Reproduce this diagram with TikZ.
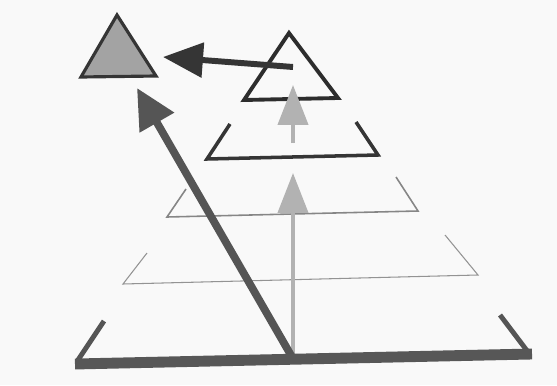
\documentclass[tikz,border=0pt]{standalone}
\usepackage{xcolor}
\usepackage{tikz}
\usetikzlibrary{arrows.meta}

\definecolor{fondo}{HTML}{F9F9F9}
\definecolor{oscuro}{HTML}{353535}
\definecolor{medio}{HTML}{555555}
\definecolor{claro}{HTML}{B2B2B2}

\begin{document}
\begin{tikzpicture}[x=0.02cm, y=-0.02cm,
  capafina/.style={draw=gray!85, line width=0.6pt, line join=miter},
  capamedia/.style={draw=gray!95, line width=0.9pt, line join=miter},
  capafuerte/.style={draw=oscuro, line width=2pt, line join=miter},
  bandeja/.style={draw=medio, line width=2.8pt, line cap=butt},
  flechaosc/.style={draw=medio, fill=medio, line width=4.4pt,
                    -{Triangle[length=0.8cm, width=0.76cm]}},
  flechahor/.style={draw=oscuro, fill=oscuro, line width=3.4pt,
                    -{Triangle[length=0.8cm, width=0.68cm]}},
  flechaclara/.style={draw=claro, fill=claro, line width=2.4pt,
                      -{Triangle[length=0.8cm, width=0.6cm]}},
]
  % Marco con las proporciones del original
  \fill[fondo] (0,0) rectangle (557,385);
  \useasboundingbox (0,0) rectangle (557,385);

  % Puntos de partida y llegada de las flechas
  \coordinate (base)    at (292,357);
  \coordinate (cima)    at (137,88);
  \coordinate (pie1)    at (293,355);
  \coordinate (punta1)  at (293,173);
  \coordinate (pie2)    at (293,143);
  \coordinate (punta2)  at (293,85);
  \coordinate (cola)    at (293,67);
  \coordinate (destino) at (163,57);

  % Niveles intermedios (trazo fino)
  \draw[capafina]  (147,253) -- (123,284) -- (478,275) -- (445,235);
  \draw[capamedia] (186,189) -- (167,217) -- (418,211) -- (396,177);
  \draw[capafuerte] (230,124) -- (207,159) -- (378,155) -- (356,122);

  % Triangulo del nivel superior
  \draw[draw=oscuro!85!black, line width=2.2pt, line join=miter]
    (289,33) -- (244,100) -- (338,98) -- cycle;

  % Triangulo relleno arriba a la izquierda
  \filldraw[fill=gray!72, draw=oscuro, line width=1.8pt, line join=miter]
    (117,15) -- (81,77) -- (156,76) -- cycle;

  % Flechas claras hacia arriba
  \draw[flechaclara] (pie1) -- (punta1);
  \draw[flechaclara] (pie2) -- (punta2);

  % Flecha larga oscura
  \draw[flechaosc] (base) -- (cima);

  % Flecha horizontal hacia el triangulo relleno
  \draw[flechahor] (cola) -- (destino);

  % Bandeja inferior
  \draw[bandeja] (104,321) -- (78,360);
  \draw[bandeja] (500,315) -- (528,352);
  \draw[draw=gray!68!black, line width=6.2pt] (75,364) -- (532,354);
\end{tikzpicture}
\end{document}
